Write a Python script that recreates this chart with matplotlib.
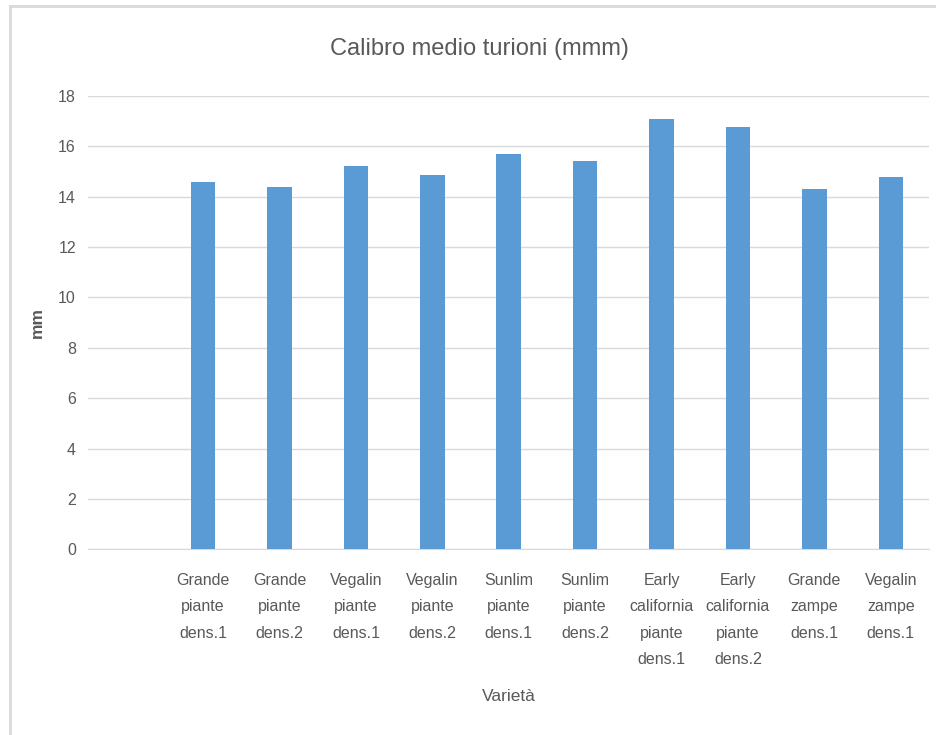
import matplotlib
matplotlib.use('Agg')
import matplotlib.pyplot as plt
from matplotlib import font_manager

# dati
categorie = ['', 'Grande\npiante\ndens.1', 'Grande\npiante\ndens.2', 'Vegalin\npiante\ndens.1',
             'Vegalin\npiante\ndens.2', 'Sunlim\npiante\ndens.1', 'Sunlim\npiante\ndens.2',
             'Early\ncalifornia\npiante\ndens.1', 'Early\ncalifornia\npiante\ndens.2',
             'Grande\nzampe\ndens.1', 'Vegalin\nzampe\ndens.1']
calibro = [None, 14.60, 14.40, 15.23, 14.88, 15.71, 15.43, 17.10, 16.78, 14.31, 14.77]
y_ticks = [0, 2, 4, 6, 8, 10, 12, 14, 16, 18]

nomi = {f.name for f in font_manager.fontManager.ttflist}
font = 'Liberation Sans Narrow' if 'Liberation Sans Narrow' in nomi else 'Liberation Sans'
plt.rcParams['font.family'] = [font, 'DejaVu Sans']

grigio = '#595959'

fig = plt.figure(figsize=(9.36, 7.35), dpi=100)
ax = fig.add_axes([0.0945, 0.2527, 0.898, 0.6167])

x = list(range(len(categorie)))
vals = [v if v is not None else 0 for v in calibro]
ax.bar(x, vals, width=0.32, color='#5b9bd5', zorder=3)

ax.set_xlim(-0.5, len(categorie) - 0.5)
ax.set_ylim(0, 18)
ax.set_yticks(y_ticks)
ax.set_yticklabels([str(t) for t in y_ticks], fontsize=11.5, color=grigio)
ax.set_xticks(x)
ax.set_xticklabels(categorie, fontsize=11.5, color=grigio, linespacing=1.95, va='top')
ax.tick_params(axis='x', length=0, pad=17)
ax.tick_params(axis='y', length=0, pad=9)

ax.grid(axis='y', color='#d9d9d9', linewidth=1, zorder=0)
for s in ['top', 'right', 'left']:
    ax.spines[s].set_visible(False)
ax.spines['bottom'].set_color('#d9d9d9')

ax.set_ylabel('mm', fontsize=12.5, fontweight='bold', color=grigio, labelpad=18)
ax.yaxis.set_label_coords(-0.052, 0.5)
ax.set_xlabel('Varietà', fontsize=12.5, color=grigio, labelpad=16)
fig.text(0.512, 0.934, 'Calibro medio turioni (mmm)', fontsize=17, color=grigio, ha='center', va='center')

# bordo dell'area grafico (solo sinistra e alto visibili)
fig.add_artist(plt.Line2D([0.011, 0.011], [0.0, 0.992], color='#d9d9d9', linewidth=2, transform=fig.transFigure))
fig.add_artist(plt.Line2D([0.011, 1.0], [0.992, 0.992], color='#d9d9d9', linewidth=2, transform=fig.transFigure))

fig.savefig('out.png', dpi=100)
